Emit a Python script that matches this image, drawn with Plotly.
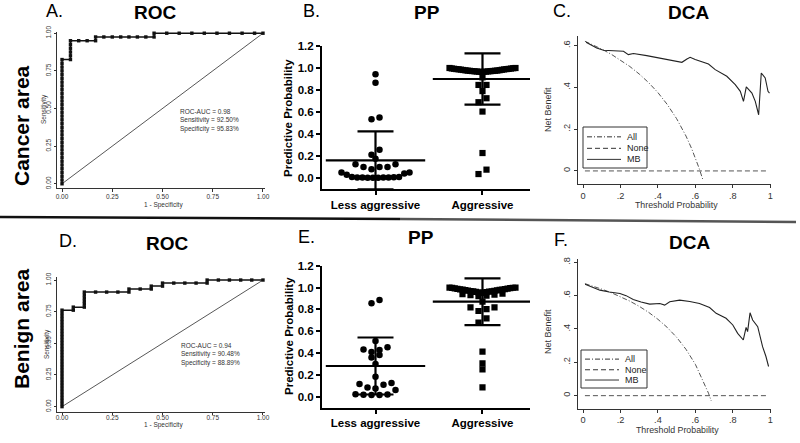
import plotly.graph_objects as go

W, H = 800, 443
FONT = "Liberation Sans, Arial, sans-serif"

# ---------------- data ----------------
# ROC, cancer area (panel A)
roc_a_fpr = [0.000, 0.000, 0.000, 0.000, 0.000, 0.000, 0.000, 0.000, 0.000, 0.000,
             0.000, 0.000, 0.000, 0.000, 0.000, 0.000, 0.000, 0.000, 0.000, 0.000,
             0.000, 0.000, 0.000, 0.000, 0.000, 0.000, 0.000, 0.000, 0.000, 0.000,
             0.000, 0.000, 0.000, 0.000,
             0.042, 0.042, 0.042, 0.042, 0.042, 0.042,
             0.083, 0.125, 0.167, 0.167,
             0.208, 0.250, 0.292, 0.333, 0.375, 0.417, 0.458, 0.458,
             0.521, 0.583, 0.646, 0.708, 0.771, 0.833, 0.896, 0.958, 1.000]
roc_a_tpr = [0.000, 0.025, 0.050, 0.075, 0.100, 0.125, 0.150, 0.175, 0.200, 0.225,
             0.250, 0.275, 0.300, 0.325, 0.350, 0.375, 0.400, 0.425, 0.450, 0.475,
             0.500, 0.525, 0.550, 0.575, 0.600, 0.625, 0.650, 0.675, 0.700, 0.725,
             0.750, 0.775, 0.800, 0.825,
             0.825, 0.850, 0.875, 0.900, 0.925, 0.950,
             0.950, 0.950, 0.950, 0.975,
             0.975, 0.975, 0.975, 0.975, 0.975, 0.975, 0.975, 1.000,
             1.000, 1.000, 1.000, 1.000, 1.000, 1.000, 1.000, 1.000, 1.000]
roc_a_stats = ["ROC-AUC = 0.98", "Sensitivity = 92.50%", "Specificity = 95.83%"]

# ROC, benign area (panel D)
roc_d_fpr = [0.000, 0.000, 0.000, 0.000, 0.000, 0.000, 0.000, 0.000, 0.000, 0.000,
             0.000, 0.000, 0.000, 0.000, 0.000, 0.000, 0.000, 0.000, 0.000, 0.000,
             0.000, 0.000, 0.000, 0.000, 0.000, 0.000, 0.000, 0.000, 0.000, 0.000,
             0.000, 0.000, 0.000,
             0.056, 0.056,
             0.111, 0.111, 0.111, 0.111, 0.111, 0.111,
             0.167, 0.222, 0.278, 0.333, 0.333,
             0.389, 0.444, 0.444,
             0.500, 0.500,
             0.556, 0.611, 0.667, 0.722, 0.722,
             0.778, 0.833, 0.889, 0.944, 1.000]
roc_d_tpr = [0.000, 0.024, 0.048, 0.071, 0.095, 0.119, 0.143, 0.167, 0.190, 0.214,
             0.238, 0.262, 0.286, 0.310, 0.333, 0.357, 0.381, 0.405, 0.429, 0.452,
             0.476, 0.500, 0.524, 0.548, 0.571, 0.595, 0.619, 0.643, 0.667, 0.690,
             0.714, 0.738, 0.762,
             0.762, 0.786,
             0.786, 0.810, 0.833, 0.857, 0.881, 0.905,
             0.905, 0.905, 0.905, 0.905, 0.929,
             0.929, 0.929, 0.952,
             0.952, 0.976,
             0.976, 0.976, 0.976, 0.976, 1.000,
             1.000, 1.000, 1.000, 1.000, 1.000]
roc_d_stats = ["ROC-AUC = 0.94", "Sensitivity = 90.48%", "Specificity = 88.89%"]

roc_ref = [0.0, 1.0]
roc_ticks = [0.0, 0.25, 0.5, 0.75, 1.0]
roc_ticktext = ["0.00", "0.25", "0.50", "0.75", "1.00"]

# Predictive probability (panels B and E)
pp_categories = ["Less aggressive", "Aggressive"]
pp_b_less = [0.943, 0.867, 0.550, 0.535, 0.257, 0.211, 0.175,
             0.124, 0.124, 0.100, 0.100, 0.100, 0.080,
             0.050, 0.050, 0.040, 0.030, 0.010, 0.008, 0.006, 0.005, 0.005,
             0.004, 0.004, 0.003, 0.003, 0.002]
pp_b_aggr = [1.000, 1.000, 0.998, 0.996, 0.995, 0.993, 0.992, 0.990, 0.990, 0.988,
             0.987, 0.985, 0.984, 0.982, 0.980, 0.979, 0.977, 0.976, 0.975, 0.974,
             0.973, 0.972, 0.971, 0.970, 0.969, 0.968, 0.967, 0.966, 0.965, 0.964,
             0.915, 0.846, 0.846, 0.790, 0.725, 0.689, 0.604, 0.227, 0.076, 0.036]
pp_b_mean = [0.16, 0.90]
pp_b_sd = [0.263, 0.233]

pp_e_less = [0.885, 0.855, 0.510, 0.452, 0.433, 0.427, 0.409, 0.381, 0.360, 0.300,
             0.183, 0.125, 0.116, 0.110, 0.085, 0.076, 0.061,
             0.022, 0.020, 0.018, 0.016, 0.015]
pp_e_aggr = [1.000, 1.000, 0.998, 0.996, 0.994, 0.992, 0.990, 0.988, 0.986, 0.984,
             0.982, 0.980, 0.978, 0.976, 0.974, 0.972, 0.970, 0.968, 0.966, 0.964,
             0.962, 0.960, 0.958, 0.956, 0.953, 0.950,
             0.945, 0.940, 0.935, 0.930, 0.925, 0.920,
             0.870, 0.818, 0.818, 0.803, 0.785, 0.717, 0.678, 0.412, 0.305, 0.250, 0.085]
pp_e_mean = [0.281, 0.870]
pp_e_sd = [0.261, 0.214]
pp_ticks = [0.0, 0.2, 0.4, 0.6, 0.8, 1.0, 1.2]

# Decision curve analysis (panels C and F)
dca_c_all_thr = [0.01, 0.05, 0.10, 0.15, 0.20, 0.25, 0.30, 0.35, 0.40, 0.45,
                 0.50, 0.55, 0.58, 0.60, 0.62, 0.64]
dca_c_all = [0.621, 0.605, 0.583, 0.559, 0.531, 0.500, 0.464, 0.423, 0.375, 0.318,
             0.250, 0.167, 0.107, 0.063, 0.013, -0.042]
dca_c_mb_thr = [0.016, 0.040, 0.073, 0.109, 0.150, 0.216, 0.242, 0.269, 0.340, 0.430,
                0.528, 0.555, 0.572, 0.599, 0.630, 0.670, 0.706, 0.768, 0.813, 0.840,
                0.857, 0.872, 0.902, 0.920, 0.938, 0.952, 0.973, 0.988, 0.996]
dca_c_mb = [0.616, 0.604, 0.589, 0.578, 0.577, 0.573, 0.557, 0.562, 0.552, 0.536,
            0.520, 0.536, 0.544, 0.533, 0.525, 0.512, 0.485, 0.453, 0.413, 0.381,
            0.333, 0.402, 0.373, 0.333, 0.269, 0.469, 0.445, 0.381, 0.373]

dca_f_all_thr = [0.01, 0.05, 0.10, 0.15, 0.20, 0.25, 0.30, 0.35, 0.40, 0.45,
                 0.50, 0.55, 0.60, 0.65, 0.67, 0.685]
dca_f_all = [0.672, 0.658, 0.639, 0.618, 0.594, 0.567, 0.536, 0.500, 0.458, 0.409,
             0.350, 0.278, 0.188, 0.071, 0.015, -0.032]
dca_f_mb_thr = [0.011, 0.050, 0.090, 0.140, 0.197, 0.230, 0.268, 0.310, 0.356, 0.410,
                0.436, 0.463, 0.516, 0.570, 0.622, 0.676, 0.711, 0.764, 0.800, 0.826,
                0.856, 0.871, 0.879, 0.892, 0.906, 0.933, 0.959, 0.977, 0.991]
dca_f_mb = [0.669, 0.652, 0.633, 0.622, 0.613, 0.600, 0.577, 0.562, 0.549, 0.553,
            0.543, 0.563, 0.573, 0.565, 0.553, 0.529, 0.494, 0.464, 0.424, 0.374,
            0.334, 0.410, 0.384, 0.497, 0.454, 0.414, 0.294, 0.235, 0.175]

dca_none_thr = [0.01, 0.99]
dca_none = [0.0, 0.0]
dca_x_ticks = [0, 0.2, 0.4, 0.6, 0.8, 1.0]
dca_x_text = ["0", ".2", ".4", ".6", ".8", "1"]
dca_c_y_ticks = [0, 0.2, 0.4, 0.6]
dca_c_y_text = ["0", ".2", ".4", ".6"]
dca_f_y_ticks = [0, 0.2, 0.4, 0.6, 0.8]
dca_f_y_text = ["0", ".2", ".4", ".6", ".8"]
dca_legend = ["All", "None", "MB"]


# ---------------- helpers ----------------
def px(x):
    return x / W


def py(y):
    return 1 - y / H


def swarm(values, center, px_per_x, px_per_y, tol_px=5.5, step_px=8.0, max_w_px=68.0):
    """Column-scatter offsets: points of similar value share a row."""
    order = sorted(range(len(values)), key=lambda i: -values[i])
    rows, cur = [], []
    for i in order:
        if cur and values[cur[0]] - values[i] > tol_px / px_per_y:
            rows.append(cur)
            cur = []
        cur.append(i)
    if cur:
        rows.append(cur)
    xs = [center] * len(values)
    for row in rows:
        n = len(row)
        s = step_px if n < 2 else min(step_px, max_w_px / (n - 1))
        slots = sorted([(k - (n - 1) / 2) * s for k in range(n)], key=lambda o: (abs(o), o))
        asc = sorted(row, key=lambda i: values[i])
        for i, o in zip(asc, slots):
            xs[i] = center + o / px_per_x
    return xs


fig = go.Figure()

# ---------- ROC panels ----------
for (fpr, tpr, xa, ya) in [(roc_a_fpr, roc_a_tpr, "x", "y"), (roc_d_fpr, roc_d_tpr, "x4", "y4")]:
    fig.add_trace(go.Scatter(x=roc_ref, y=roc_ref, mode="lines",
                             line=dict(color="#444", width=0.9), xaxis=xa, yaxis=ya,
                             hoverinfo="skip"))
    fig.add_trace(go.Scatter(x=fpr, y=tpr, mode="lines+markers",
                             line=dict(color="#111", width=1.5),
                             marker=dict(symbol="square", size=3.4, color="#111"),
                             xaxis=xa, yaxis=ya, cliponaxis=False))

# ---------- PP panels ----------
PPX = 107.0   # px per category unit
for (less, aggr, mean, sd, xa, ya, ppy) in [
        (pp_b_less, pp_b_aggr, pp_b_mean, pp_b_sd, "x2", "y2", 110.0),
        (pp_e_less, pp_e_aggr, pp_e_mean, pp_e_sd, "x5", "y5", 109.2)]:
    fig.add_trace(go.Scatter(x=swarm(less, 0, PPX, ppy), y=less, mode="markers",
                             marker=dict(symbol="circle", size=6.5, color="black"),
                             xaxis=xa, yaxis=ya))
    fig.add_trace(go.Scatter(x=swarm(aggr, 1, PPX, ppy, max_w_px=66.0), y=aggr, mode="markers",
                             marker=dict(symbol="square", size=6.2, color="black"),
                             xaxis=xa, yaxis=ya))
    fig.add_trace(go.Scatter(x=[0, 1], y=mean, mode="markers",
                             marker=dict(symbol="line-ew", size=71, color="black",
                                         line=dict(width=2.2, color="black")),
                             error_y=dict(type="data", array=sd, visible=True, width=18,
                                          thickness=2.2, color="black"),
                             xaxis=xa, yaxis=ya))

# ---------- DCA panels ----------
for (athr, aval, mthr, mval, xa, ya) in [
        (dca_c_all_thr, dca_c_all, dca_c_mb_thr, dca_c_mb, "x3", "y3"),
        (dca_f_all_thr, dca_f_all, dca_f_mb_thr, dca_f_mb, "x6", "y6")]:
    fig.add_trace(go.Scatter(x=athr, y=aval, mode="lines", name=dca_legend[0],
                             line=dict(color="#555", width=1, dash="5px,2px,1px,2px"),
                             xaxis=xa, yaxis=ya, cliponaxis=False))
    fig.add_trace(go.Scatter(x=dca_none_thr, y=dca_none, mode="lines", name=dca_legend[1],
                             line=dict(color="#555", width=1, dash="5px,3px"),
                             xaxis=xa, yaxis=ya))
    fig.add_trace(go.Scatter(x=mthr, y=mval, mode="lines", name=dca_legend[2],
                             line=dict(color="#222", width=1.1),
                             xaxis=xa, yaxis=ya))

# ---------- axes ----------
boxes = {
    "A": (57, 265, 31.7, 188.3),
    "B": (322, 530, 46.0, 189.0),
    "C": (578, 771, 36.0, 184.3),
    "D": (57, 265, 277.0, 411.7),
    "E": (322, 530, 265.7, 407.6),
    "F": (578, 771, 259.3, 409.0),
}


def dom(b):
    x0, x1, y0, y1 = b
    return [px(x0), px(x1)], [py(y1), py(y0)]


def stata_axis(d, rng, tv, tt, anchor, fs, angle=0, tl=3.0, so=0):
    return dict(domain=d, range=rng, tickvals=tv, ticktext=tt, anchor=anchor,
                showline=True, linecolor="#333", linewidth=1, ticks="outside",
                ticklen=tl, tickwidth=1, tickcolor="#333", showgrid=False,
                zeroline=False, tickangle=angle, fixedrange=True, automargin=False,
                ticklabelstandoff=so,
                tickfont=dict(family=FONT, size=fs, color="#333"))


def pp_axis_x(d, anchor):
    return dict(domain=d, range=[-0.5, 1.444], tickvals=[0, 1], ticktext=pp_categories,
                anchor=anchor, showline=True, linecolor="black", linewidth=2,
                ticks="outside", ticklen=4, tickwidth=2, tickcolor="black",
                showgrid=False, zeroline=False, automargin=False, fixedrange=True,
                tickfont=dict(family=FONT, size=11.5, color="black", weight="bold"))


def pp_axis_y(d, anchor):
    return dict(domain=d, range=[-0.1, 1.2], tickvals=pp_ticks, tickformat=".1f",
                anchor=anchor, showline=True, linecolor="black", linewidth=2,
                ticks="outside", ticklen=4, tickwidth=2, tickcolor="black",
                showgrid=False, zeroline=False, automargin=False, fixedrange=True,
                tickfont=dict(family=FONT, size=11.5, color="black", weight="bold"))


xa_, ya_ = dom(boxes["A"])
xb_, yb_ = dom(boxes["B"])
xc_, yc_ = dom(boxes["C"])
xd_, yd_ = dom(boxes["D"])
xe_, ye_ = dom(boxes["E"])
xf_, yf_ = dom(boxes["F"])

fig.update_layout(
    xaxis=stata_axis(xa_, [-0.025, 1.01], roc_ticks, roc_ticktext, "y", 6.5, tl=2.5, so=-1),
    yaxis=stata_axis(ya_, [-0.03, 1.01], roc_ticks, roc_ticktext, "x", 6.5, -90, tl=2.5),
    xaxis4=stata_axis(xd_, [-0.025, 1.01], roc_ticks, roc_ticktext, "y4", 6.5, tl=2.5, so=-3),
    yaxis4=stata_axis(yd_, [-0.04, 1.024], roc_ticks, roc_ticktext, "x4", 6.5, -90, tl=2.5),
    xaxis2=pp_axis_x(xb_, "y2"),
    yaxis2=pp_axis_y(yb_, "x2"),
    xaxis5=pp_axis_x(xe_, "y5"),
    yaxis5=pp_axis_y(ye_, "x5"),
    xaxis3=stata_axis(xc_, [-0.027, 1.004], dca_x_ticks, dca_x_text, "y3", 9.2),
    yaxis3=stata_axis(yc_, [-0.064, 0.646], dca_c_y_ticks, dca_c_y_text, "x3", 9.2, -90),
    xaxis6=stata_axis(xf_, [-0.027, 1.004], dca_x_ticks, dca_x_text, "y6", 9.2, so=-1),
    yaxis6=stata_axis(yf_, [-0.08, 0.818], dca_f_y_ticks, dca_f_y_text, "x6", 9.2, -90),
)

# ---------- annotations ----------
ann = []


def text(x, y, s, size, bold=False, angle=0, xanchor="center", yanchor="middle",
         color="black", align="center"):
    ann.append(dict(x=px(x), y=py(y), xref="paper", yref="paper", text=s, showarrow=False,
                    textangle=angle, xanchor=xanchor, yanchor=yanchor, align=align,
                    font=dict(family=FONT, size=size, color=color,
                              weight="bold" if bold else "normal")))


# panel letters and titles
for (lx, ly, lt, tx, ty, tt) in [(54, 11, "A.", 155, 12, "ROC"),
                                  (311, 11, "B.", 427, 12, "PP"),
                                  (562, 11, "C.", 688, 12, "DCA"),
                                  (68, 241, "D.", 167, 243, "ROC"),
                                  (306, 237, "E.", 421, 237, "PP"),
                                  (561, 240, "F.", 689, 242, "DCA")]:
    text(lx, ly, lt, 18)
    text(tx, ty, tt, 19, bold=True)

# row labels
text(21, 126, "Cancer area", 21, bold=True, angle=-90)
text(21, 329, "Benign area", 21, bold=True, angle=-90)

# ROC axis titles and stats
text(44, 109, "Sensitivity", 6.5, angle=-90, color="#333")
text(163, 204.5, "1 - Specificity", 6.5, color="#333")
text(178, 120.8, "<br>".join(roc_a_stats), 6.5, xanchor="left", align="left", color="#333")
text(47, 344, "Sensitivity", 6.5, angle=-90, color="#333")
text(163, 424.5, "1 - Specificity", 6.5, color="#333")
text(179, 354.5, "<br>".join(roc_d_stats), 6.5, xanchor="left", align="left", color="#333")

# PP axis titles
text(288, 118, "Predictive Probability", 11.5, bold=True, angle=-90)
text(289, 336, "Predictive Probability", 11.5, bold=True, angle=-90)

# DCA axis titles
text(548, 110, "Net Benefit", 9, angle=-90, color="#333")
text(676, 205, "Threshold Probability", 8.8, color="#333")
text(548, 332, "Net Benefit", 9, angle=-90, color="#333")
text(677, 430, "Threshold Probability", 8.8, color="#333")

shapes = []
# DCA manual legends
for (bx0, by0, bx1, by1) in [(583, 127, 647, 168), (581, 350, 647, 388)]:
    shapes.append(dict(type="rect", xref="paper", yref="paper",
                       x0=px(bx0), x1=px(bx1), y0=py(by1), y1=py(by0),
                       line=dict(color="#333", width=1), fillcolor="white", layer="above"))
    rows_y = [by0 + (by1 - by0) * f for f in (0.24, 0.52, 0.79)]
    dashes = ["5px,2px,1px,2px", "5px,3px", "solid"]
    for ry, dsh, lab in zip(rows_y, dashes, dca_legend):
        shapes.append(dict(type="line", xref="paper", yref="paper",
                           x0=px(bx0 + 4), x1=px(bx0 + 38), y0=py(ry), y1=py(ry),
                           line=dict(color="#333", width=1, dash=dsh), layer="above"))
        text(bx0 + 42, ry, lab, 9, xanchor="left", color="#222")

# separator line between rows
shapes.append(dict(type="line", xref="paper", yref="paper", x0=px(0), x1=px(400),
                   y0=py(217), y1=py(219), line=dict(color="#111", width=2.5)))
shapes.append(dict(type="line", xref="paper", yref="paper", x0=px(400), x1=px(796),
                   y0=py(219), y1=py(222), line=dict(color="#555", width=2.5)))

fig.update_layout(
    width=W, height=H, margin=dict(l=0, r=0, t=0, b=0, autoexpand=False),
    paper_bgcolor="white", plot_bgcolor="white", showlegend=False,
    annotations=ann, shapes=shapes,
    font=dict(family=FONT),
)

fig.write_html("out.html", config={"displayModeBar": False},
               post_script="document.body.style.margin='0px';"
                           "document.body.style.overflow='hidden';")
